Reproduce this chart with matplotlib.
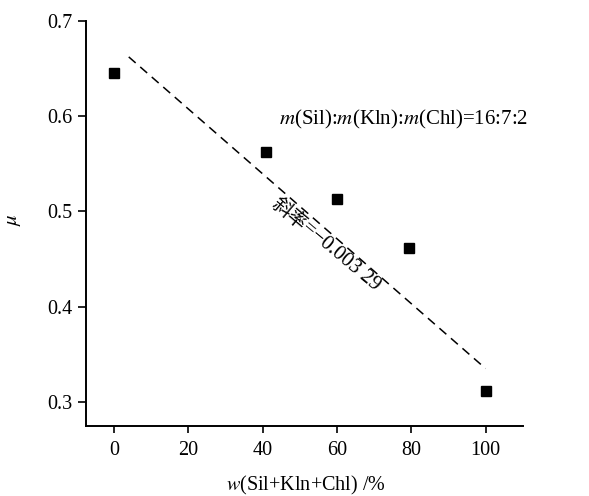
import numpy as np
import matplotlib
matplotlib.use("Agg")
import matplotlib.pyplot as plt

plt.rcParams["font.family"] = ["Liberation Serif", "Noto Sans CJK SC"]
plt.rcParams["mathtext.fontset"] = "stix"

# Datos
x_pts = [0, 41, 60, 79.5, 100]
mu_pts = [0.645, 0.5625, 0.5125, 0.462, 0.3115]

# Recta de ajuste (extremos)
fit_x = [4, 100]
fit_y = [0.662, 0.335]

x_ticks = [0, 20, 40, 60, 80, 100]
y_ticks = [0.3, 0.4, 0.5, 0.6, 0.7]

fig = plt.figure(figsize=(5.89, 4.96), dpi=100)
ax = fig.add_axes([0.146, 0.1417, 0.7415, 0.8166])

ax.plot(fit_x, fit_y, color="black", lw=1.1, ls=(0, (6, 4)))
ax.plot(x_pts, mu_pts, ls="none", marker="s", ms=7, color="black")

ax.set_xlim(-7.5, 110)
ax.set_ylim(0.275, 0.7)
ax.set_xticks(x_ticks)
ax.set_yticks(y_ticks)
ax.set_xticklabels([str(v) for v in x_ticks])
ax.set_yticklabels([f"{v:.1f}" for v in y_ticks])

for s in ["top", "right"]:
    ax.spines[s].set_visible(False)
for s in ["left", "bottom"]:
    ax.spines[s].set_linewidth(1.4)

ax.tick_params(axis="x", direction="out", length=5, width=1.2, labelsize=14.5, pad=6)
ax.tick_params(axis="y", direction="out", length=6, width=1.2, labelsize=14.5, pad=4)

ax.set_xlabel("$w$(Sil+Kln+Chl) /%", fontsize=14.5)
ax.xaxis.set_label_coords(0.504, -0.118)
ax.set_ylabel(r"$\mu$", fontsize=15, rotation=90)
ax.yaxis.set_label_coords(-0.145, 0.51)

ax.text(44.4, 0.596, "$m$(Sil):$m$(Kln):$m$(Chl)=16:7:2", fontsize=15,
        ha="left", va="center")

# etiqueta de la pendiente (dos partes para no mezclar fuentes)
ax.text(51.6, 0.4867, "斜率", fontsize=14, rotation=-40, family="Noto Sans CJK SC",
        rotation_mode="anchor", ha="right", va="center_baseline")
ax.text(51.6, 0.4867, "=\u22120.003 29", fontsize=15, rotation=-40,
        family="Liberation Serif",
        rotation_mode="anchor", ha="left", va="center_baseline")

fig.savefig("out.png", dpi=100)
